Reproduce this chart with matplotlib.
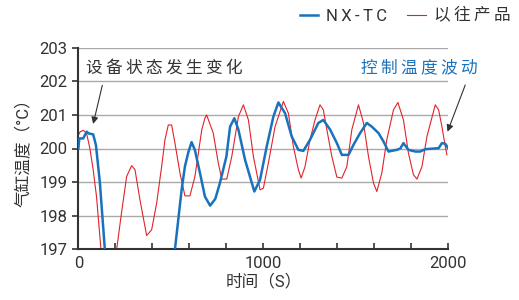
import matplotlib
matplotlib.use("Agg")
from matplotlib import pyplot as plt

plt.rcParams['font.family'] = ['Roboto', 'Noto Sans CJK SC', 'DejaVu Sans']

# NX-TC (blue)
nx_t = [0, 5, 26, 45, 55, 80, 95, 116, 143, 160, 300, 500, 522, 558, 576, 595, 612,
        630, 660, 684, 712, 740, 765, 800, 820, 843, 865, 901, 951, 982, 1018, 1054,
        1081, 1117, 1153, 1189, 1216, 1252, 1297, 1324, 1361, 1397, 1424, 1460, 1487,
        1523, 1559, 1586, 1622, 1649, 1676, 1721, 1740, 1757, 1784, 1821, 1848, 1875,
        1947, 1965, 1983, 2000]
nx_v = [200.0, 200.3, 200.3, 200.5, 200.45, 200.42, 200.1, 199.0, 197.0, 196.4, 194.5, 196.2,
        197.0, 198.77, 199.47, 199.9, 200.19, 199.95, 199.2, 198.57, 198.3, 198.5, 198.97,
        199.76, 200.65, 200.9, 200.56, 199.66, 198.72, 199.07, 200.06, 200.95, 201.37,
        201.05, 200.36, 199.96, 199.93, 200.26, 200.76, 200.85, 200.56, 200.16, 199.81,
        199.81, 200.11, 200.46, 200.76, 200.65, 200.46, 200.21, 199.91, 199.96, 200.0,
        200.16, 199.96, 199.91, 199.91, 199.98, 200.01, 200.16, 200.14, 200.0]

# 以往产品 (red)
old_t = [0, 10, 26, 44, 62, 80, 98, 122, 150, 180, 207, 233, 261, 288, 306, 333, 369, 396,
         423, 450, 468, 486, 504, 522, 549, 576, 603, 630, 667, 684, 693, 729, 756, 775,
         802, 829, 865, 892, 919, 946, 982, 1000, 1027, 1063, 1108, 1135, 1162, 1189,
         1204, 1225, 1252, 1279, 1306, 1324, 1343, 1370, 1397, 1424, 1451, 1478, 1514,
         1541, 1568, 1595, 1613, 1640, 1667, 1703, 1727, 1757, 1784, 1811, 1830, 1857,
         1884, 1929, 1947, 1965, 1983, 1992]
old_v = [200.4, 200.5, 200.54, 200.46, 200.01, 199.37, 198.57, 197.0, 195.5, 195.5, 197.0,
         198.08, 199.17, 199.49, 199.37, 198.47, 197.41, 197.58, 198.37, 199.46, 200.26,
         200.7, 200.7, 200.16, 199.27, 198.59, 198.59, 199.17, 200.56, 200.9, 201.0,
         200.46, 199.57, 199.09, 199.09, 199.76, 200.95, 201.3, 200.85, 199.76, 198.77,
         198.82, 199.57, 200.65, 201.4, 201.05, 200.06, 199.37, 199.12, 199.46, 200.26,
         200.85, 201.3, 201.15, 200.56, 199.76, 199.15, 199.12, 199.46, 200.56, 201.3,
         200.76, 199.76, 198.97, 198.72, 199.27, 200.26, 201.15, 201.37, 200.85, 199.86,
         199.22, 199.09, 199.46, 200.36, 201.3, 201.15, 200.65, 200.06, 199.81]

yticks = [197, 198, 199, 200, 201, 202, 203]
xticks = [0, 1000, 2000]

blue = '#1a72bd'
red = '#e2222b'
dark = '#333333'


def spaced(s):
    # mimic the letter spacing of the original artwork
    return '\u2009'.join(s)


fig = plt.figure(figsize=(5.19, 3.0), dpi=100)
ax = fig.add_axes([0.151, 0.169, 0.713, 0.672])

ax.plot(nx_t, nx_v, color=blue, lw=1.8, label=spaced('NX-TC'), zorder=3)
ax.plot(old_t, old_v, color=red, lw=0.8, label=spaced('以往产品'), zorder=2)

ax.set_xlim(0, 2000)
ax.set_ylim(197, 203)
ax.set_yticks(yticks)
ax.set_xticks(xticks)
ax.set_xticks(range(0, 2001, 200), minor=True)
for y in yticks[1:]:
    ax.axhline(y, color='#aaaaaa', lw=1, zorder=1)

for s in ['top', 'right']:
    ax.spines[s].set_visible(False)
for s in ['left', 'bottom']:
    ax.spines[s].set_color(dark)
    ax.spines[s].set_linewidth(1.5)

ax.tick_params(axis='y', direction='out', length=4, width=1.2, color=dark,
               labelsize=12, labelcolor=dark, pad=4)
ax.tick_params(axis='x', which='both', direction='in', length=4, width=1.2, color=dark,
               labelsize=12, labelcolor=dark, pad=5)

ax.set_ylabel('气缸温度（°C）', fontsize=12, color=dark, labelpad=6)
ax.set_xlabel('时间（S）', fontsize=12, color=dark, labelpad=2)

ax.annotate(spaced('设备状态发生变化'), xy=(80, 200.73), xytext=(40, 202.4),
            fontsize=12, color=dark, va='center', ha='left',
            arrowprops=dict(arrowstyle='-|>', color=dark, lw=0.8, mutation_scale=10,
                            shrinkA=5, shrinkB=0, relpos=(0.12, 0.0)))
ax.annotate(spaced('控制温度波动'), xy=(1995, 200.5), xytext=(1530, 202.4),
            fontsize=12, color=blue, va='center', ha='left',
            arrowprops=dict(arrowstyle='-|>', color=dark, lw=0.8, mutation_scale=10,
                            shrinkA=5, shrinkB=0, relpos=(0.92, 0.0)))

fig.legend(loc='upper right', bbox_to_anchor=(1.013, 1.025), ncol=2, frameon=False,
           fontsize=12, handlelength=1.1, handletextpad=0.5, columnspacing=1.2,
           labelcolor=dark)

fig.savefig('out.png', dpi=100)
